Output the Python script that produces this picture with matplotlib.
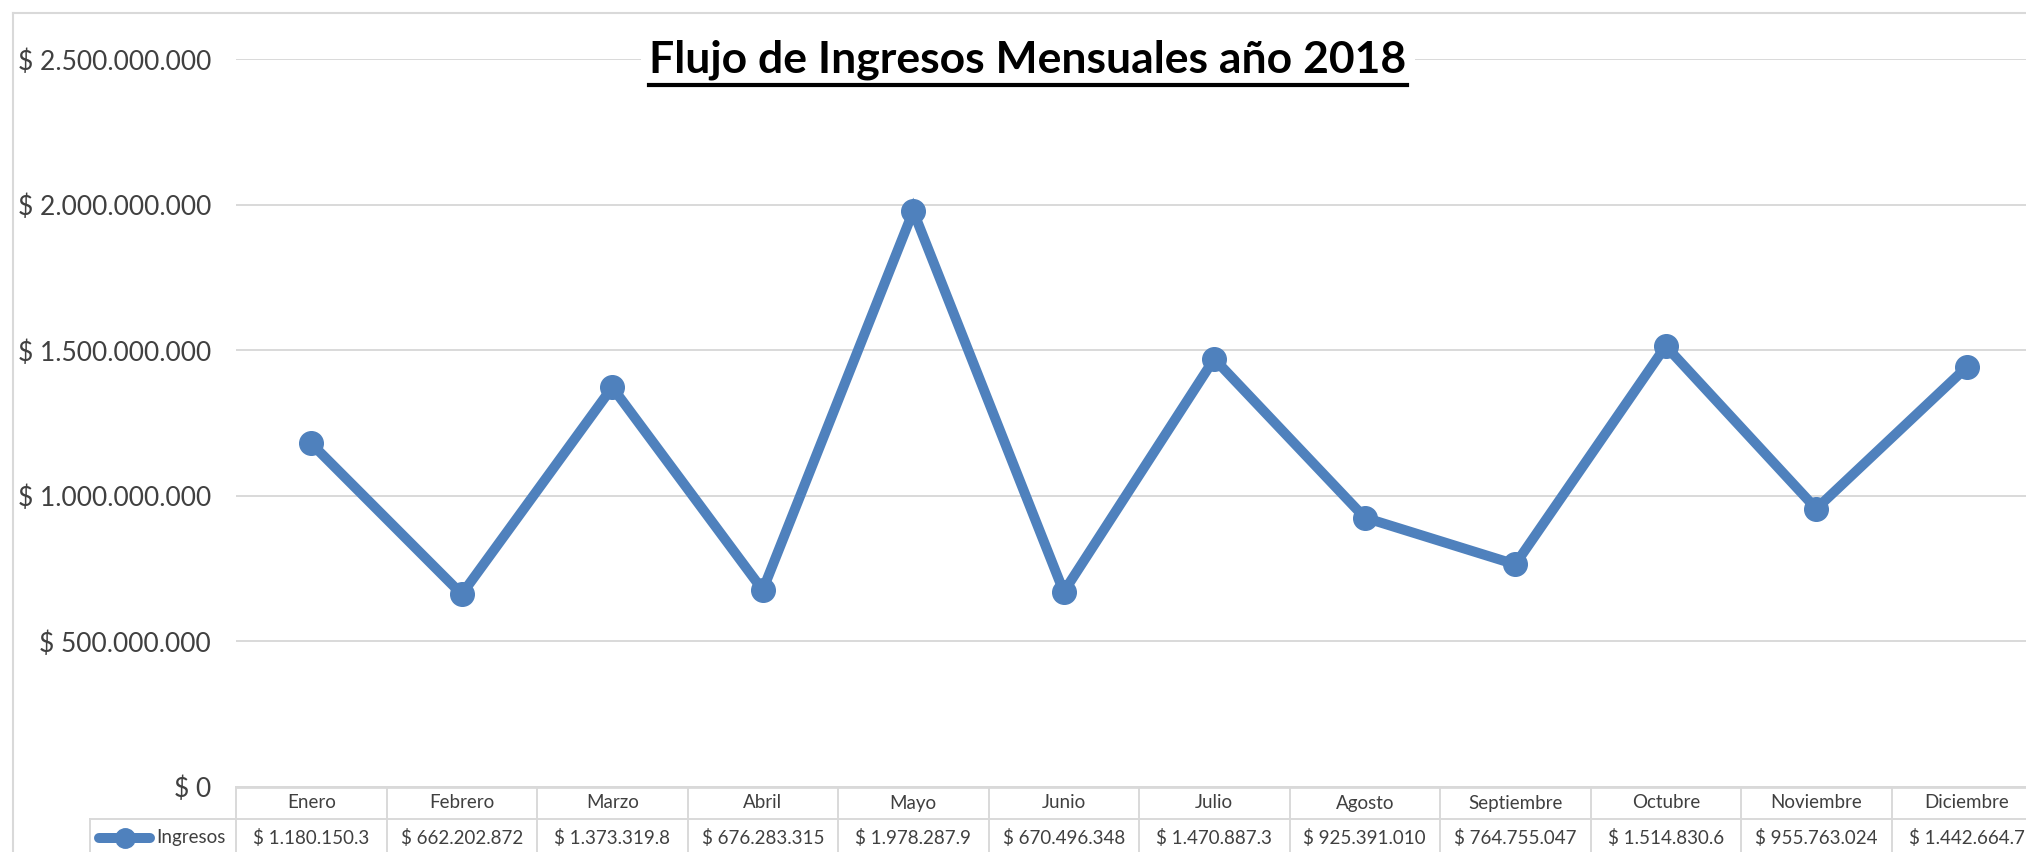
import numpy as np
import matplotlib
matplotlib.use('Agg')
import matplotlib.pyplot as plt
from matplotlib.lines import Line2D
import matplotlib.transforms as mtransforms

plt.rcParams['font.family'] = ['Lato', 'DejaVu Sans']

##### Data
meses = ['Enero', 'Febrero', 'Marzo', 'Abril', 'Mayo', 'Junio', 'Julio',
         'Agosto', 'Septiembre', 'Octubre', 'Noviembre', 'Diciembre']
ingresos = [1180150300, 662202872, 1373319800, 676283315, 1978287900, 670496348,
            1470887300, 925391010, 764755047, 1514830600, 955763024, 1442664700]
y_ticks = [0, 500000000, 1000000000, 1500000000, 2000000000, 2500000000]
serie = 'Ingresos'
titulo = 'Flujo de Ingresos Mensuales año 2018'

blue = '#4F81BD'
grid_c = '#D9D9D9'
txt_c = '#404040'

W, H = 2026, 852


def peso(v):
    # Excel-style: $ 1.180.150.300
    return '$ ' + format(int(v), ',').replace(',', '.')


def fy(py):
    # pixel row (from top) -> figure fraction
    return 1 - py / H


fig = plt.figure(figsize=(W / 100, H / 100), dpi=100)
ax = fig.add_axes([236 / W, fy(787), 1806 / W, (787 - 59.3) / H])

x = np.arange(len(meses))
ax.plot(x, ingresos, color=blue, lw=7.2, marker='o', ms=17,
        solid_joinstyle='miter', zorder=3)

ax.set_xlim(-0.5, len(meses) - 0.5)
ax.set_ylim(y_ticks[0], y_ticks[-1])
ax.set_yticks(y_ticks)
ax.set_yticklabels([peso(v) for v in y_ticks], fontsize=19, color=txt_c)
ax.tick_params(axis='y', length=0, pad=18)
ax.set_xticks([])
ax.grid(axis='y', color=grid_c, lw=1.4)
ax.set_axisbelow(True)
for s in ['left', 'right', 'top']:
    ax.spines[s].set_visible(False)
ax.spines['bottom'].set_color(grid_c)
ax.spines['bottom'].set_linewidth(2)

# data table below the axis
trans = mtransforms.blended_transform_factory(ax.transData, fig.transFigure)
for i in range(len(meses) + 1):
    ax.add_line(Line2D([i - 0.5, i - 0.5], [fy(787), 0], transform=trans,
                       color=grid_c, lw=1.4, clip_on=False))
for i, m in enumerate(meses):
    ax.text(i, fy(803), m, transform=trans, ha='center', va='center',
            fontsize=13.5, color=txt_c)
    ax.text(i, fy(838), peso(ingresos[i])[:13], transform=trans, ha='center',
            va='center', fontsize=13.5, color=txt_c)

fig.add_artist(Line2D([90 / W, 1], [fy(819), fy(819)], color=grid_c, lw=1.4))
fig.add_artist(Line2D([90 / W, 90 / W], [fy(819), 0], color=grid_c, lw=1.4))
fig.add_artist(Line2D([99 / W, 150 / W], [fy(838), fy(838)], color=blue,
                      lw=7.2, solid_capstyle='round'))
fig.add_artist(Line2D([124.5 / W], [fy(838)], color=blue, marker='o', ms=14))
fig.text(156 / W, fy(838), serie, ha='left', va='center', fontsize=13.5,
         color=txt_c)

# chart border (cropped on right and bottom)
fig.add_artist(Line2D([12.7 / W, 12.7 / W], [fy(12.7), 0], color=grid_c, lw=1.5))
fig.add_artist(Line2D([12.7 / W, 1], [fy(12.7), fy(12.7)], color=grid_c, lw=1.5))

# title with underline
t = fig.text(1028 / W, fy(60), titulo, ha='center', va='center', fontsize=32,
             fontweight='bold', color='black',
             bbox=dict(facecolor='white', edgecolor='none', pad=6))
r = fig.canvas.get_renderer()
bb = t.get_window_extent(renderer=r)
fig.add_artist(Line2D([bb.x0 / W, bb.x1 / W], [fy(85), fy(85)], color='black',
                      lw=3, zorder=10))

fig.savefig('out.png', dpi=100)
